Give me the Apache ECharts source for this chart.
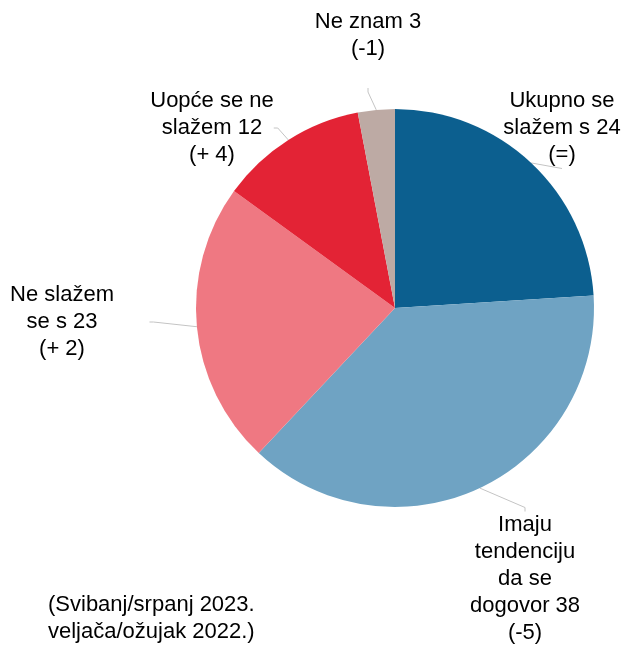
<!DOCTYPE html>
<html>
<head>
<meta charset="utf-8">
<script src="https://cdn.jsdelivr.net/npm/echarts@6/dist/echarts.min.js"></script>
<style>
  html, body { margin: 0; padding: 0; background: #fff; }
  #chart { width: 630px; height: 648px; }
</style>
</head>
<body>
<div id="chart"></div>
<script>
  // podaci
  var names = ['Ukupno se\nslažem s', 'Imaju\ntendenciju\nda se\ndogovor', 'Ne slažem\nse s', 'Uopće se ne\nslažem', 'Ne znam'];
  var values = [24, 38, 23, 12, 3];
  var changes = ['=', '-5', '+ 2', '+ 4', '-1'];
  var colors = ['#0c5f8f', '#6fa3c3', '#ef7882', '#e32335', '#bdaaa4'];
  var note = '(Svibanj/srpanj 2023.\nveljača/ožujak 2022.)';

  // pozicije natpisa (centar teksta) i razmak do linije
  var labelPos = [[562, 128], [525, 579], [62, 322], [212, 128], [368, 35]];
  var labelPad = [[0, 0], [0, 0], [0, 66], [0, 0], [26, 0]];

  var data = [];
  for (var i = 0; i < names.length; i++) {
    data.push({
      name: names[i],
      value: values[i],
      itemStyle: { color: colors[i] },
      label: { padding: labelPad[i] }
    });
  }

  var myChart = echarts.init(document.getElementById('chart'));
  var option = {
    animation: false,
    series: [{
      type: 'pie',
      center: [395, 308],
      radius: [0, 199],
      startAngle: 90,
      clockwise: true,
      data: data,
      itemStyle: { borderWidth: 0 },
      label: {
        show: true,
        position: 'outside',
        fontFamily: 'Liberation Sans, Arial, sans-serif',
        fontSize: 22,
        lineHeight: 27,
        color: '#000',
        align: 'center',
        overflow: 'none',
        formatter: function (p) {
          return p.name + ' ' + p.value + '\n(' + changes[p.dataIndex] + ')';
        }
      },
      labelLine: {
        show: true,
        length: 8,
        length2: 4,
        lineStyle: { color: '#c4c4c4', width: 1 }
      },
      labelLayout: function (p) {
        var pos = labelPos[p.dataIndex];
        return { x: pos[0], y: pos[1], align: 'center', verticalAlign: 'middle' };
      }
    }],
    graphic: [{
      type: 'text',
      left: 48,
      top: 591,
      style: {
        text: note,
        font: '22px "Liberation Sans", Arial, sans-serif',
        lineHeight: 27,
        fill: '#000',
        textAlign: 'left'
      }
    }]
  };
  myChart.setOption(option);
</script>
</body>
</html>
